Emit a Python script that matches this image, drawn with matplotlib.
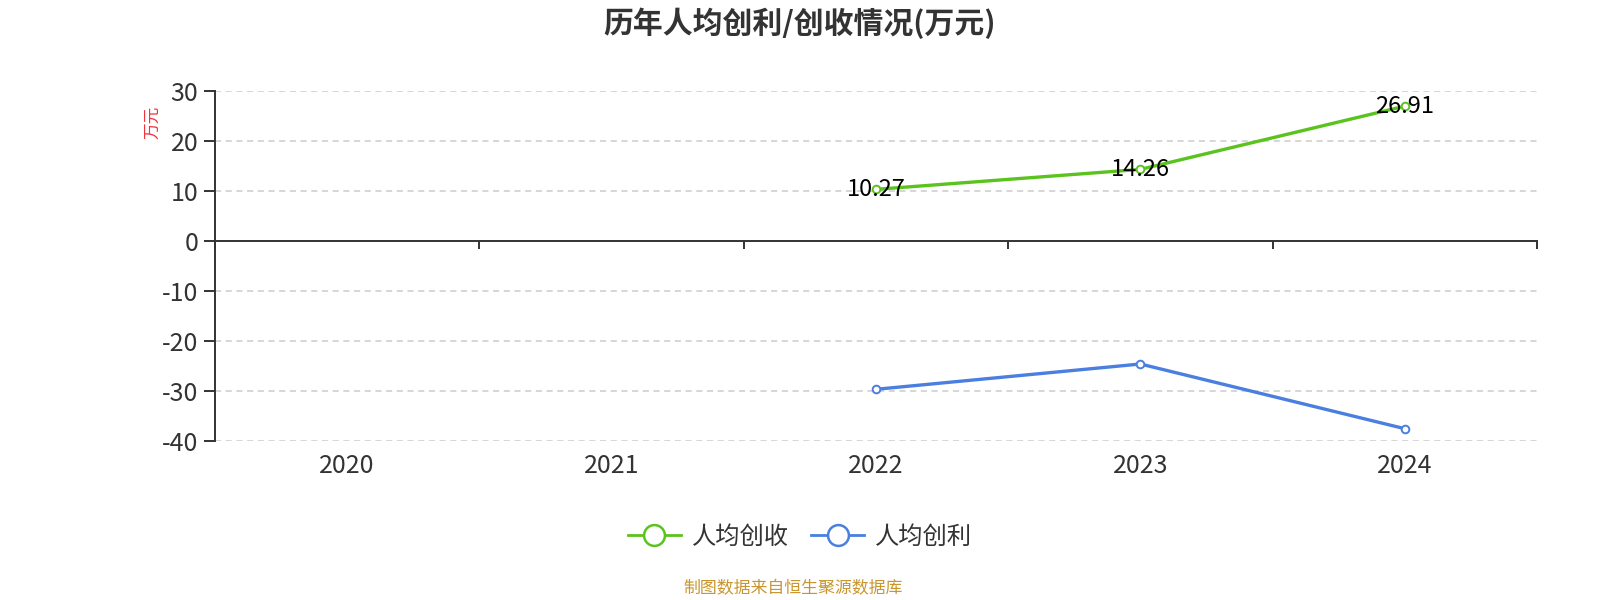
import numpy as np
import matplotlib
matplotlib.use("Agg")
import matplotlib.pyplot as plt

plt.rcParams['font.family'] = ['Noto Sans CJK SC', 'DejaVu Sans']
plt.rcParams['axes.unicode_minus'] = False

# ==============================
# Datos
# ==============================
years = ['2020', '2021', '2022', '2023', '2024']
revenue_per_head = [None, None, 10.27, 14.26, 26.91]    # 人均创收
profit_per_head = [None, None, -29.72, -24.66, -37.60]  # 人均创利
y_ticks = [30, 20, 10, 0, -10, -20, -30, -40]

GREEN = "#5BC31D"
BLUE = "#4A7FE0"
DARK = "#333333"

x = np.arange(len(years))
rev = np.array([np.nan if v is None else v for v in revenue_per_head], dtype=float)
prof = np.array([np.nan if v is None else v for v in profit_per_head], dtype=float)

fig = plt.figure(figsize=(16, 6), dpi=100)
ax = fig.add_axes([215 / 1600, 1 - 440.7 / 600, 1322 / 1600, 350 / 600])

# Líneas de cuadrícula
for t in y_ticks:
    if t != 0:
        ax.axhline(t, color="#CCCCCC", linewidth=1.1, linestyle=(0, (4, 3)), zorder=0)

ax.plot(x, rev, color=GREEN, linewidth=2.4, marker='o', markersize=5.5,
        markerfacecolor='white', markeredgewidth=1.4, zorder=3)
ax.plot(x, prof, color=BLUE, linewidth=2.4, marker='o', markersize=5.5,
        markerfacecolor='white', markeredgewidth=1.4, zorder=3)

# Etiquetas de valores
for xi, v in zip(x, rev):
    if not np.isnan(v):
        ax.text(xi, v, f"{v:.2f}", ha='center', va='center', fontsize=17,
                color='black', zorder=4)

ax.set_xlim(-0.5, len(years) - 0.5)
ax.set_ylim(min(y_ticks), max(y_ticks))

# Eje Y
ax.set_yticks(y_ticks)
ax.tick_params(axis='y', length=8, width=1.4, color=DARK, labelsize=18,
               labelcolor=DARK, pad=4)
ax.spines['left'].set_color(DARK)
ax.spines['left'].set_linewidth(1.4)
ax.spines['top'].set_visible(False)
ax.spines['right'].set_visible(False)

# Eje X en cero con marcas en los límites de categoría
ax.spines['bottom'].set_position(('data', 0))
ax.spines['bottom'].set_color(DARK)
ax.spines['bottom'].set_linewidth(1.4)
ax.set_xticks(np.arange(len(years) + 1) - 0.5)
ax.set_xticklabels([])
ax.tick_params(axis='x', length=6, width=1.4, color=DARK, direction='out')

sec = ax.secondary_xaxis(0)
sec.set_xticks(x, labels=years)
sec.tick_params(length=0, labelsize=18, labelcolor=DARK, pad=9)
sec.spines['bottom'].set_visible(False)

# Etiqueta del eje Y
fig.text(153 / 1600, 1 - 122 / 600, "万元", rotation=90, color="#F0343A",
         fontsize=12, ha='center', va='center')

# Título
fig.text(0.5, 1 - 23 / 600, "历年人均创利/创收情况(万元)", ha='center', va='center',
         fontsize=21.5, fontweight='bold', color=DARK)

# Leyenda
leg_handles = [
    plt.Line2D([], [], color=GREEN, linewidth=2, marker='o', markersize=15,
               markerfacecolor='white', markeredgewidth=1.8),
    plt.Line2D([], [], color=BLUE, linewidth=2, marker='o', markersize=15,
               markerfacecolor='white', markeredgewidth=1.8),
]
fig.legend(leg_handles, ["人均创收", "人均创利"], loc='center',
           bbox_to_anchor=(0.5, 1 - 537 / 600), ncol=2, frameon=False,
           fontsize=17.5, labelcolor=DARK, handlelength=2.2, handletextpad=0.45,
           columnspacing=0.9)

# Pie de página
fig.text(793 / 1600, 1 - 588 / 600, "制图数据来自恒生聚源数据库", ha='center', va='center',
         fontsize=12.2, color="#C8962E")

fig.savefig("out.png", dpi=100)
